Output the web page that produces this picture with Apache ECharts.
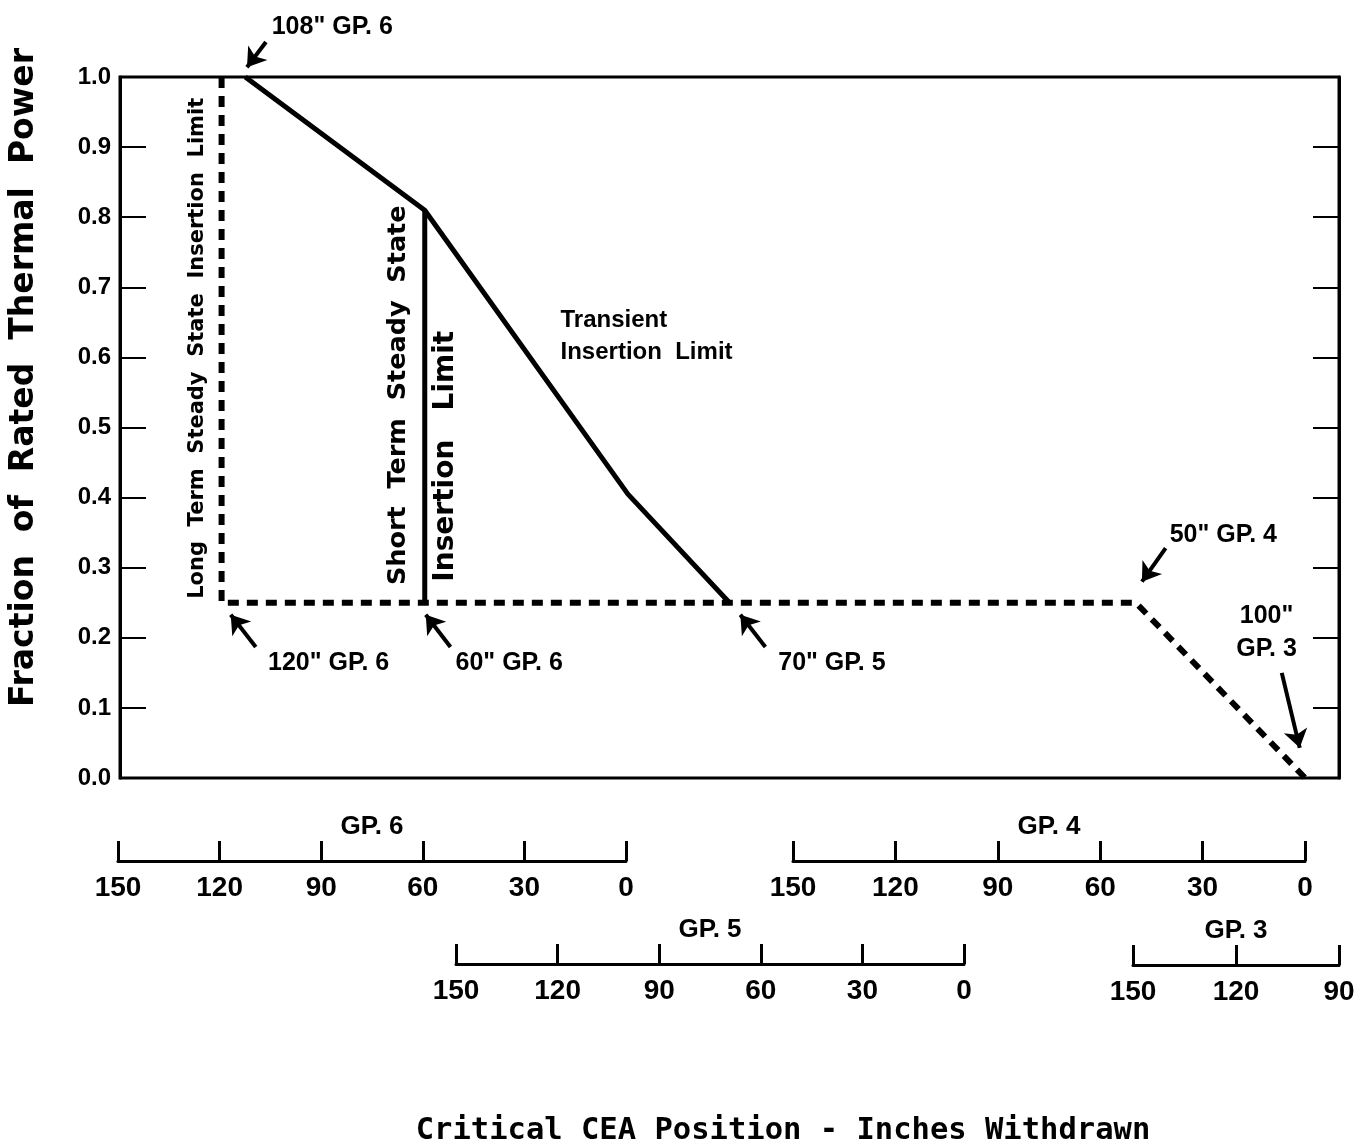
<!DOCTYPE html>
<html>
<head>
<meta charset="utf-8">
<script src="https://cdn.jsdelivr.net/npm/echarts@6/dist/echarts.min.js"></script>
<style>
  html, body { margin: 0; padding: 0; background: #fff; }
  #chart { width: 1364px; height: 1148px; }
</style>
</head>
<body>
<div id="chart"></div>
<script>
// Combined position scale (inches): s = 0 at GP.6 fully withdrawn 150",
// each following group starts 100" later (GP.6 p -> 150-p, GP.5 -> 250-p, GP.4 -> 350-p, GP.3 -> 450-p)
const yTickLabels = ['0.0','0.1','0.2','0.3','0.4','0.5','0.6','0.7','0.8','0.9','1.0'];

const groupNames = ['GP. 6', 'GP. 5', 'GP. 4', 'GP. 3'];
const groupMin   = [0, 0, 0, 90];
const groupMax   = [150, 150, 150, 150];

// Transient insertion limit (solid)
const transientX = [37, 90, 150, 180];
const transientY = [1.0, 0.81, 0.405, 0.25];
// Short term steady state insertion limit (solid vertical)
const shortTermX = [90, 90];
const shortTermY = [0.25, 0.81];
// Long term steady state insertion limit (dashed)
const longTermX = [30, 30, 300, 350];
const longTermY = [1.0, 0.25, 0.25, 0.0];

// Annotation texts and their anchor points (data coordinates)
const noteText = ['108" GP. 6', '120" GP. 6', '60" GP. 6', '70" GP. 5', '50" GP. 4', '100"\nGP. 3'];
const noteX    = [44.8, 43.7, 99.1, 194.4, 310.0, 338.6];
const noteY    = [1.071, 0.164, 0.164, 0.164, 0.347, 0.207];
const noteAlign = ['left', 'left', 'left', 'left', 'left', 'center'];
// Arrows: tail -> head
const arrowFrom = [[43.1, 1.050], [40.1, 0.187], [97.6, 0.187], [190.6, 0.187], [308.8, 0.328], [343.1, 0.150]];
const arrowTo   = [[37.5, 1.014], [32.7, 0.233], [90.3, 0.233], [183.2, 0.233], [301.8, 0.280], [348.4, 0.043]];

// Curve labels
const curveText = ['Long  Term  Steady  State  Insertion  Limit', 'Short  Term  Steady  State', 'Insertion   Limit', 'Transient\nInsertion  Limit'];
const curveX    = [23.0, 82.3, 96.2, 130.1];
const curveY    = [0.613, 0.546, 0.459, 0.630];
const curveRot  = [90, 90, 90, 0];

const FONT = "'Liberation Sans', Arial, sans-serif";
const FONT_W = "'DejaVu Sans', Verdana, sans-serif";

const zip = (xs, ys) => xs.map((x, i) => [x, ys[i]]);

const chart = echarts.init(document.getElementById('chart'), null, { renderer: 'canvas' });

const groupGrids = [
  { left: 118, width: 508, top: 860, height: 1 },
  { left: 456, width: 508, top: 963, height: 1 },
  { left: 793, width: 512, top: 860, height: 1 },
  { left: 1133, width: 206, top: 964, height: 1 }
];

const grids = [{ left: 119, top: 77, width: 1220, height: 701, show: true, borderColor: '#000', borderWidth: 3, backgroundColor: 'transparent' }]
  .concat(groupGrids.map(g => Object.assign({ containLabel: false }, g)));

const xAxes = [{
  gridIndex: 0, type: 'value', min: 0, max: 360, show: false
}].concat(groupNames.map((n, i) => ({
  gridIndex: i + 1, type: 'value', inverse: true, min: groupMin[i], max: groupMax[i], interval: 30,
  position: 'bottom',
  name: n, nameLocation: 'middle', nameGap: -47,
  nameTextStyle: { fontFamily: FONT, fontWeight: 'bold', fontSize: 26, color: '#000' },
  axisLine: { show: true, onZero: false, lineStyle: { color: '#000', width: 3 } },
  axisTick: { show: true, inside: true, length: 20, lineStyle: { color: '#000', width: 3 } },
  axisLabel: { show: true, margin: 13, fontFamily: FONT, fontWeight: 'bold', fontSize: 28, color: '#000' },
  splitLine: { show: false }
})));

const yAxes = [{
  gridIndex: 0, type: 'value', min: 0, max: 1, interval: 0.1, position: 'left',
  name: 'Fraction  of  Rated  Thermal  Power', nameLocation: 'middle', nameRotate: 90, nameGap: 79,
  nameTextStyle: { fontFamily: FONT_W, fontWeight: 'bold', fontSize: 33, color: '#000', padding: [0, 0, 0, 100] },
  axisLine: { show: true, lineStyle: { color: '#000', width: 3 } },
  axisTick: { show: true, inside: true, length: 26, lineStyle: { color: '#000', width: 2 } },
  axisLabel: { show: true, margin: 9, fontFamily: FONT, fontWeight: 'bold', fontSize: 24, color: '#000',
    formatter: (v) => yTickLabels[Math.round(v * 10)] },
  splitLine: { show: false }
}, {
  gridIndex: 0, type: 'value', min: 0, max: 1, interval: 0.1, position: 'right',
  axisLine: { show: true, lineStyle: { color: '#000', width: 3 } },
  axisTick: { show: true, inside: true, length: 26, lineStyle: { color: '#000', width: 2 } },
  axisLabel: { show: false }, splitLine: { show: false }
}].concat(groupNames.map((n, i) => ({ gridIndex: i + 1, type: 'value', show: false })));

const baseLabel = { show: true, position: 'inside', color: '#000', opacity: 1, textBorderWidth: 0, textBorderColor: 'transparent', fontWeight: 'bold' };

const option = {
  animation: false,
  backgroundColor: '#fff',
  title: {
    text: 'Critical CEA Position - Inches Withdrawn',
    left: 778, top: 1111, textAlign: 'center',
    textStyle: { fontFamily: "'DejaVu Sans Mono', 'Liberation Mono', monospace", fontWeight: 'bold', fontSize: 30.5, color: '#000' }
  },
  grid: grids,
  xAxis: xAxes,
  yAxis: yAxes,
  series: [
    {
      name: 'Long Term', type: 'line', xAxisIndex: 0, yAxisIndex: 0, data: zip(longTermX, longTermY),
      symbol: 'none', clip: false,
      lineStyle: { color: '#000', width: 6, type: [11, 8] }
    },
    {
      name: 'Short Term', type: 'line', xAxisIndex: 0, yAxisIndex: 0, data: zip(shortTermX, shortTermY),
      symbol: 'none', clip: false,
      lineStyle: { color: '#000', width: 5 }
    },
    {
      name: 'Transient', type: 'line', xAxisIndex: 0, yAxisIndex: 0, data: zip(transientX, transientY),
      symbol: 'none', clip: false,
      lineStyle: { color: '#000', width: 5, join: 'round' }
    },
    {
      name: 'Arrows', type: 'lines', coordinateSystem: 'cartesian2d', xAxisIndex: 0, yAxisIndex: 0,
      clip: false, symbol: ['none', 'arrow'], symbolSize: 18,
      lineStyle: { color: '#000', width: 4, opacity: 1 },
      data: arrowFrom.map((f, i) => ({ coords: [f, arrowTo[i]] }))
    },
    {
      name: 'Notes', type: 'scatter', xAxisIndex: 0, yAxisIndex: 0, clip: false,
      symbolSize: 0, itemStyle: { color: '#000', opacity: 1 },
      label: baseLabel,
      data: noteText.map((t, i) => ({
        value: [noteX[i], noteY[i]],
        label: Object.assign({}, baseLabel, {
          formatter: t, align: noteAlign[i], verticalAlign: 'middle',
          fontFamily: FONT, fontSize: 25, lineHeight: 33
        })
      }))
    },
    {
      name: 'CurveLabels', type: 'scatter', xAxisIndex: 0, yAxisIndex: 0, clip: false,
      symbolSize: 0, itemStyle: { color: '#000', opacity: 1 },
      label: baseLabel,
      data: curveText.map((t, i) => ({
        value: [curveX[i], curveY[i]],
        label: Object.assign({}, baseLabel, {
          formatter: t, rotate: curveRot[i],
          align: curveRot[i] ? 'center' : 'left', verticalAlign: 'middle',
          fontFamily: i === 3 ? FONT : FONT_W,
          fontSize: [21, 25.5, 28, 24][i], lineHeight: 32
        })
      }))
    }
  ]
};
chart.setOption(option);
</script>
</body>
</html>
